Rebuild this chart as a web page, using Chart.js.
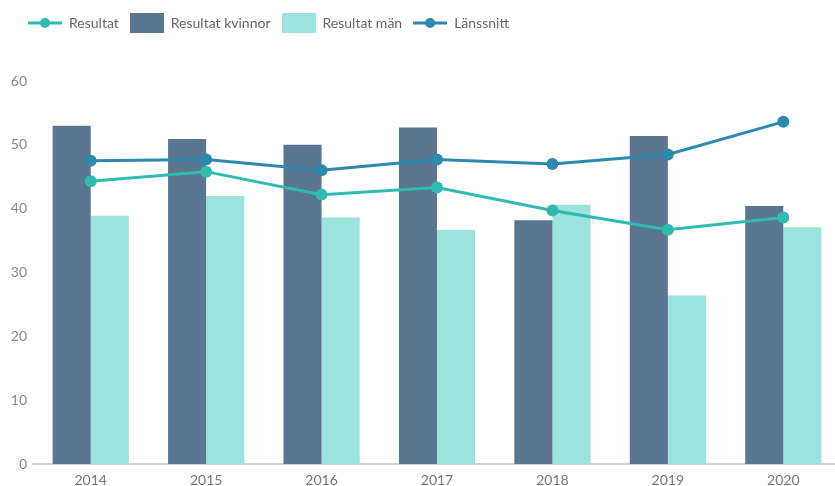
<!DOCTYPE html>
<html>
<head>
<meta charset="utf-8">
<script src="https://cdn.jsdelivr.net/npm/chart.js@4/dist/chart.umd.min.js"></script>
<style>
  html, body { margin: 0; padding: 0; background: #fff; overflow: hidden; }
  canvas { display: block; }
</style>
</head>
<body>
<canvas id="c" width="835" height="486"></canvas>
<script>
const categories = ["2014", "2015", "2016", "2017", "2018", "2019", "2020"];
const resultat = [44.3, 45.8, 42.2, 43.3, 39.7, 36.7, 38.6];
const resultatKvinnor = [53.0, 50.9, 50.0, 52.7, 38.2, 51.4, 40.4];
const resultatMan = [38.9, 42.0, 38.6, 36.7, 40.6, 26.4, 37.1];
const lansSnitt = [47.5, 47.7, 46.0, 47.7, 47.0, 48.5, 53.6];
const yTicks = [0, 10, 20, 30, 40, 50, 60];

const C_TEAL = '#2fbab2';
const C_DARK = '#5a7690';
const C_LIGHT = '#9be3dc';
const C_BLUE = '#2e89ae';

function lineIcon(color) {
  const c = document.createElement('canvas');
  c.width = 34; c.height = 14;
  const x = c.getContext('2d');
  x.strokeStyle = color; x.lineWidth = 3;
  x.beginPath(); x.moveTo(0, 7); x.lineTo(34, 7); x.stroke();
  x.fillStyle = color;
  x.beginPath(); x.arc(17, 7, 5, 0, Math.PI * 2); x.fill();
  return c;
}
function boxIcon(color) {
  const c = document.createElement('canvas');
  c.width = 34; c.height = 20;
  const x = c.getContext('2d');
  x.fillStyle = color; x.fillRect(0, 0, 34, 20);
  return c;
}
const icons = [lineIcon(C_TEAL), boxIcon(C_DARK), boxIcon(C_LIGHT), lineIcon(C_BLUE)];

const layoutTweaks = {
  id: 'layoutTweaks',
  beforeInit(chart) {
    const orig = chart.legend.fit;
    chart.legend.fit = function () {
      orig.call(this);
      this.height += 41;
    };
  },
  afterLayout(chart) {
    chart.legend.left += 17;
    // the last category runs slightly past the right edge of the picture
    const x = chart.scales.x;
    x._length = x._length + 6;
    x._endPixel = x._startPixel + x._length;
  }
};

Chart.defaults.font.family = 'Lato, "Open Sans", sans-serif';

new Chart(document.getElementById('c'), {
  type: 'bar',
  data: {
    labels: categories,
    datasets: [
      { type: 'line', label: 'Resultat', data: resultat, borderColor: C_TEAL, backgroundColor: C_TEAL,
        borderWidth: 3, pointRadius: 6, pointHoverRadius: 6, pointBackgroundColor: C_TEAL, pointBorderWidth: 0, order: 0, tension: 0 },
      { type: 'bar', label: 'Resultat kvinnor', data: resultatKvinnor, backgroundColor: C_DARK, order: 1,
        categoryPercentage: 0.66, barPercentage: 1.0 },
      { type: 'bar', label: 'Resultat män', data: resultatMan, backgroundColor: C_LIGHT, order: 1,
        categoryPercentage: 0.66, barPercentage: 1.0 },
      { type: 'line', label: 'Länssnitt', data: lansSnitt, borderColor: C_BLUE, backgroundColor: C_BLUE,
        borderWidth: 3, pointRadius: 6, pointHoverRadius: 6, pointBackgroundColor: C_BLUE, pointBorderWidth: 0, order: 0, tension: 0 }
    ]
  },
  options: {
    responsive: false,
    animation: false,
    layout: { autoPadding: false, padding: { left: 0, top: 5, right: 0, bottom: 0 } },
    plugins: {
      tooltip: { enabled: false },
      legend: {
        position: 'top',
        align: 'start',
        labels: {
          usePointStyle: true,
          pointStyleWidth: 34,
          padding: 11,
          color: '#666',
          font: { size: 14 },
          sort: (a, b) => a.datasetIndex - b.datasetIndex,
          generateLabels(chart) {
            const items = Chart.defaults.plugins.legend.labels.generateLabels(chart);
            items.forEach(it => { it.pointStyle = icons[it.datasetIndex]; });
            return items;
          }
        }
      }
    },
    scales: {
      x: {
        afterFit(scale) { scale.height = 22; },
        grid: { display: false, drawTicks: false },
        border: { display: true, color: '#d4d4d4', width: 2 },
        ticks: { color: '#777', font: { size: 14 }, padding: 8 }
      },
      y: {
        min: 0, max: 60,
        afterBuildTicks(scale) { scale.ticks = yTicks.map(v => ({ value: v })); },
        afterFit(scale) { scale.width = 33; },
        grid: { display: false, drawTicks: false },
        border: { display: false },
        ticks: { color: '#888', font: { size: 14 }, padding: 6 }
      }
    }
  },
  plugins: [layoutTweaks]
});
</script>
</body>
</html>
